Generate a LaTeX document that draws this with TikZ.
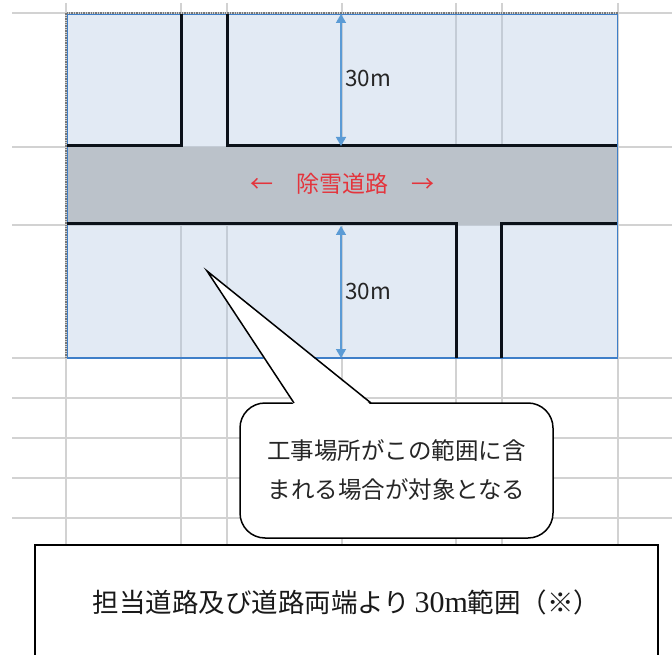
\documentclass[tikz,border=0pt]{standalone}
\usepackage{fontspec}
\newfontfamily\cjk{Noto Sans CJK JP}
\newfontfamily\lserif{Liberation Serif}
\usetikzlibrary{arrows.meta}
\definecolor{gridc}{RGB}{210,210,210}
\definecolor{zonefill}{RGB}{172,195,224}
\definecolor{zoneedge}{RGB}{63,127,200}
\definecolor{roadfill}{RGB}{187,194,202}
\definecolor{wallc}{RGB}{11,17,25}
\definecolor{dimc}{RGB}{91,155,213}
\definecolor{roadtext}{RGB}{228,52,60}
\definecolor{labtext}{RGB}{38,38,38}
\definecolor{selc}{RGB}{120,120,120}
\begin{document}
\begin{tikzpicture}[x=1pt,y=-1pt,
  gridline/.style={draw=gridc,line width=1.8pt},
  wall/.style={draw=wallc,line width=3pt,line join=miter},
  dimarrow/.style={draw=dimc,line width=1.6pt,{Triangle[width=10pt,length=9pt]}-{Triangle[width=10pt,length=9pt]}},
  dimlabel/.style={text=labtext,font=\cjk\fontsize{22.5}{26}\selectfont,inner sep=0pt},
  roadlabel/.style={text=roadtext,font=\cjk\fontsize{23}{28}\selectfont,inner sep=0pt},
  calloutbox/.style={draw=black,line width=1.5pt,fill=white,rounded corners=25pt,minimum width=313pt,minimum height=135pt,inner sep=0pt,align=center,text=labtext,font=\cjk\fontsize{23.5}{39}\selectfont},
  notebox/.style={draw=black,line width=1.6pt,fill=white,minimum width=623pt,minimum height=115pt,inner sep=0pt,text=black!90,font=\cjk\fontsize{26.5}{30}\selectfont}
]
\useasboundingbox (0,0) rectangle (672,655);
\clip (0,0) rectangle (672,655);
\fill[white] (0,0) rectangle (672,655);
% spreadsheet grid
\foreach \x in {66,181,227,342,456,502,618} \draw[gridline] (\x,3) -- (\x,655);
\foreach \y in {13,147,225,358,398,438,478,518} \draw[gridline] (12,\y) -- (672,\y);
% 30 m zone
\fill[zonefill,fill opacity=0.35] (67,14) rectangle (618,358);
% road
\fill[roadfill] (67,147) rectangle (618,225);
% selection frame and zone border
\draw[selc,line width=1.4pt,densely dotted] (66,358) -- (66,13) -- (618,13);
\draw[zoneedge,line width=1.3pt] (67.5,14.5) rectangle (617.5,358);
% building walls
\draw[wall] (67,146) -- (181,146) -- (181,14);
\draw[wall] (227,14) -- (227,146) -- (617,146);
\draw[wall] (67,224) -- (456,224) -- (456,358);
\draw[wall] (501,358) -- (501,224) -- (617,224);
% dimension arrows
\coordinate (a1) at (341,14);
\coordinate (a2) at (341,146);
\coordinate (b1) at (341,226);
\coordinate (b2) at (341,358);
\draw[dimarrow] (a1) -- (a2);
\draw[dimarrow] (b1) -- (b2);
\node[dimlabel] (d1) at (368,78) {30m};
\node[dimlabel] (d2) at (368,291) {30m};
% road label
\node[roadlabel] (road) at (342,184) {←　除雪道路　→};
% callout
\node[calloutbox] (note) at (396.5,470.5) {工事場所がこの範囲に含\\まれる場合が対象となる};
\coordinate (tip) at (207,271);
\coordinate (pl) at (294,403);
\coordinate (pr) at (371,403);
\fill[white] ([yshift=-2pt]pl) -- (tip) -- ([yshift=-2pt]pr) -- cycle;
\draw[black,line width=1.5pt,line join=miter] (pl) -- (tip) -- (pr);
% bottom note
\node[notebox] (scope) at (346.5,602.5) {担当道路及び道路両端より\,{\lserif\fontsize{30}{30}\selectfont 30m}範囲（※）};
\end{tikzpicture}
\end{document}
